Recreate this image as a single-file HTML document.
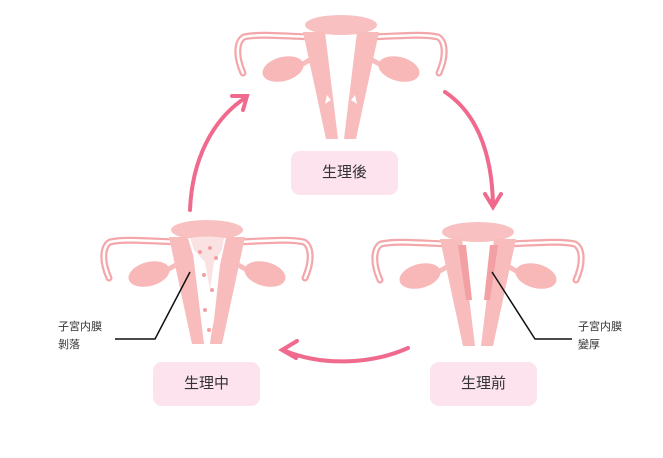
<!DOCTYPE html>
<html><head><meta charset="utf-8"><style>
html,body{margin:0;padding:0;background:#fff;}
body{width:663px;height:458px;overflow:hidden;position:relative;font-family:"Liberation Sans","Noto Sans CJK TC",sans-serif;}
.box{position:absolute;background:#fce3ee;border-radius:9px;font-size:15px;color:#333;text-align:center;line-height:44px;width:107px;height:44px;}
.lab{position:absolute;font-size:11px;color:#333;line-height:18px;}
</style></head><body>
<svg width="663" height="458" style="position:absolute;left:0;top:0">
<defs>
<g id="ut">
  <path d="M-22 22 C-50 22 -80 18 -97 22 C-104 26 -106 40 -98 58" fill="none" stroke="#f4a7aa" stroke-width="7" stroke-linecap="round"/>
  <path d="M-22 22 C-50 22 -80 18 -97 22 C-104 26 -106 40 -98 58" fill="none" stroke="#fff" stroke-width="2.5" stroke-linecap="round"/>
  <path d="M22 22 C50 22 80 18 97 22 C104 26 106 40 98 58" fill="none" stroke="#f4a7aa" stroke-width="7" stroke-linecap="round"/>
  <path d="M22 22 C50 22 80 18 97 22 C104 26 106 40 98 58" fill="none" stroke="#fff" stroke-width="2.5" stroke-linecap="round"/>
  <path d="M-40 50 L-26 42" stroke="#f8bcbc" stroke-width="5"/>
  <path d="M40 50 L26 42" stroke="#f8bcbc" stroke-width="5"/>
  <ellipse cx="-58" cy="54" rx="21" ry="12" transform="rotate(-15 -58 54)" fill="#f8b8b8"/>
  <ellipse cx="58" cy="54" rx="21" ry="12" transform="rotate(15 58 54)" fill="#f8b8b8"/>
  <ellipse cx="0" cy="10" rx="36" ry="10" fill="#f8c0c0"/>
  <path d="M-38 17 L-16 17 L-3 124 L-15 124 Z" fill="#f8bcbc"/>
  <path d="M38 17 L16 17 L3 124 L15 124 Z" fill="#f8bcbc"/>
</g>
</defs>
<use href="#ut" x="341" y="15"/>
<path d="M327 95 L331 100 L325 104 Z" fill="#fff"/>
<path d="M355 95 L351 100 L357 104 Z" fill="#fff"/>
<use href="#ut" x="207" y="220"/>
<path d="M188 238 L226 238 L220 265 L214 320 L208 350 L202 320 L196 265 Z" fill="#fff"/>
<path d="M190 238 C200 236 215 236 224 238 L222 250 L214 262 L210 290 L205 262 L194 250 Z" fill="#fbe2e2"/>
<g fill="#f3a0a4"><circle cx="200" cy="252" r="2"/><circle cx="210" cy="248" r="2"/><circle cx="216" cy="258" r="2"/><circle cx="204" cy="275" r="2"/><circle cx="212" cy="290" r="2"/><circle cx="205" cy="310" r="2"/><circle cx="209" cy="330" r="2"/></g>
<use href="#ut" x="478" y="222"/>
<path d="M458 245 L466 245 L472 300 L466 300 Z" fill="#f3a0a4"/>
<path d="M498 245 L490 245 L484 300 L490 300 Z" fill="#f3a0a4"/>
<g fill="none" stroke="#f06a8e" stroke-width="4" stroke-linecap="round">
<path d="M190 210 C192 160 212 120 245 98"/>
<path d="M232 96 L247 96 L243 110"/>
<path d="M445 92 C475 112 492 150 493 205"/>
<path d="M485 194 L493 207 L501 194"/>
<path d="M408 348 C370 365 320 366 283 350"/>
<path d="M297 341 L282 350 L296 358"/>
</g>
<g fill="none" stroke="#111" stroke-width="1.5">
<path d="M190 272 L155 339 L115 339"/>
<path d="M492 272 L535 339 L572 339"/>
</g>
</svg>
<div class="box" style="left:291px;top:151px">生理後</div>
<div class="box" style="left:153px;top:362px">生理中</div>
<div class="box" style="left:430px;top:362px">生理前</div>
<div class="lab" style="left:58px;top:318px">子宮内膜<br>剝落</div>
<div class="lab" style="left:578px;top:318px">子宮内膜<br>變厚</div>
</body></html>
